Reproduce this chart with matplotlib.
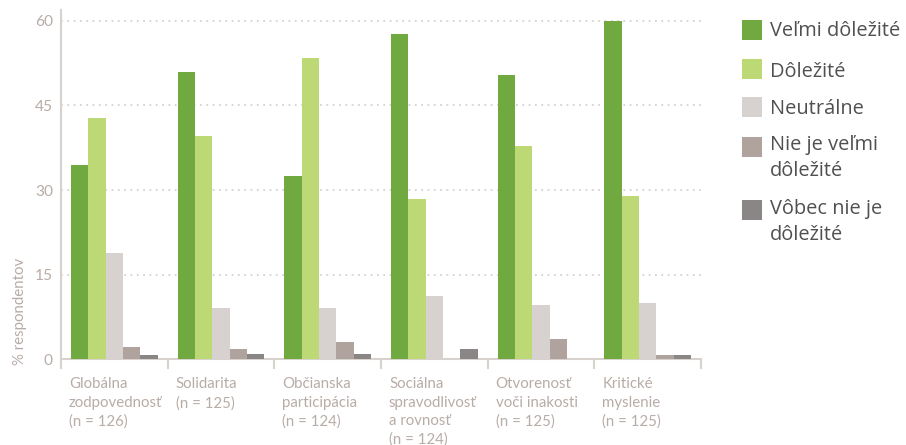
import matplotlib
matplotlib.use("Agg")
import matplotlib.pyplot as plt
from matplotlib.patches import Rectangle
import numpy as np

categories = [
    "Globálna\nzodpovednosť\n(n = 126)",
    "Solidarita\n(n = 125)",
    "Občianska\nparticipácia\n(n = 124)",
    "Sociálna\nspravodlivosť\na rovnosť\n(n = 124)",
    "Otvorenosť\nvoči inakosti\n(n = 125)",
    "Kritické\nmyslenie\n(n = 125)",
]
series_names = [
    "Veľmi dôležité",
    "Dôležité",
    "Neutrálne",
    "Nie je veľmi\ndôležité",
    "Vôbec nie je\ndôležité",
]
velmi_dolezite = [34.4, 50.9, 32.5, 57.6, 50.4, 60.0]
dolezite = [42.8, 39.6, 53.4, 28.4, 37.8, 28.9]
neutralne = [18.8, 9.1, 9.1, 11.2, 9.6, 10.0]
nie_je_velmi = [2.2, 1.8, 3.1, 0.0, 3.6, 0.8]
vobec_nie = [0.8, 0.9, 0.9, 1.8, 0.0, 0.8]
series_values = [velmi_dolezite, dolezite, neutralne, nie_je_velmi, vobec_nie]
colors = ["#6fa93f", "#bdd976", "#d7d2cf", "#b0a29d", "#8a8686"]
yticks = [0, 15, 30, 45, 60]

W, H = 906, 445
fig = plt.figure(figsize=(W / 100, H / 100), dpi=100)
ax = fig.add_axes([61 / W, (H - 359.3) / H, 640 / W, 349.3 / H])

tick_col = "#b8aca7"
spine_col = "#d8d2cf"
tick_font = ["Lato", "DejaVu Sans"]

x = np.arange(len(categories))
bw = 0.163
for j, (vals, col) in enumerate(zip(series_values, colors)):
    ax.bar(x + (j - 2) * bw, vals, width=bw, color=col, zorder=3, linewidth=0)

ax.set_xlim(-0.5, len(categories) - 0.5)
ax.set_ylim(0, 61.9)

ax.set_yticks(yticks)
ax.set_yticklabels([str(v) for v in yticks], fontsize=11.2, color=tick_col, family=tick_font)
ax.tick_params(axis="y", length=0, pad=5.8)

ax.set_xticks(x - 0.5 + 0.075)
ax.set_xticklabels(categories, fontsize=10.8, color=tick_col, family=tick_font,
                   ha="left", linespacing=1.4)
ax.tick_params(axis="x", which="major", length=0, pad=13)
ax.set_xticks(np.arange(len(categories) + 1) - 0.5, minor=True)
ax.tick_params(axis="x", which="minor", length=7.5, width=1.5, color=spine_col, direction="out")

for s in ["top", "right"]:
    ax.spines[s].set_visible(False)
for s in ["left", "bottom"]:
    ax.spines[s].set_color(spine_col)
    ax.spines[s].set_linewidth(1.5)

ax.yaxis.grid(True, linestyle=(0, (1, 2.5)), color=spine_col, linewidth=1.3)
ax.set_axisbelow(True)

ax.set_ylabel("% respondentov", fontsize=10.8, color=tick_col, family=tick_font, loc="bottom")
ax.yaxis.set_label_coords(-0.053, -0.016)

# legend (first-line baseline positions; multi-line texts anchor on last line)
sw_tops = [20, 59, 97, 137, 200]
txt_base = [36, 77, 114, 152, 216]
line_gap = 24
for name, col, top, base in zip(series_names, colors, sw_tops, txt_base):
    fig.patches.append(Rectangle((742 / W, (H - top - 20) / H), 20 / W, 20 / H,
                                 transform=fig.transFigure, color=col, linewidth=0))
    nl = name.count("\n")
    fig.text(770 / W, (H - base - nl * line_gap) / H, name, fontsize=14.4, color="#505050",
             family=["Open Sans", "DejaVu Sans"], va="baseline", ha="left", linespacing=1.38)

fig.savefig("out.png", dpi=100)
